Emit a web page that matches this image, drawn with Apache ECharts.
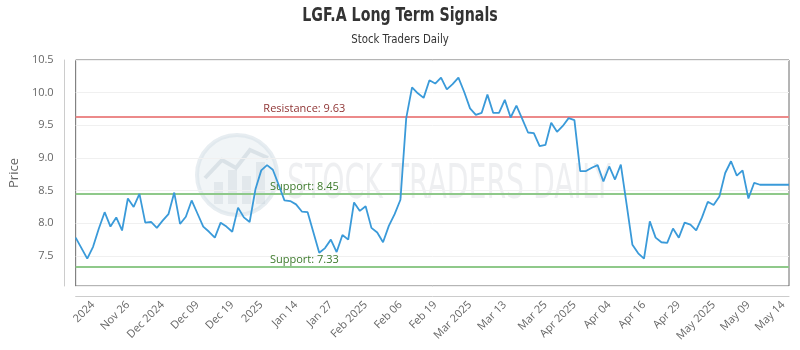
<!DOCTYPE html>
<html>
<head>
<meta charset="utf-8">
<script src="https://cdn.jsdelivr.net/npm/echarts@6/dist/echarts.min.js"></script>
<style>
  html, body { margin: 0; padding: 0; background: #fff; }
  #chart { width: 800px; height: 350px; }
</style>
</head>
<body>
<div id="chart"></div>
<script>
// Daily closing prices for LGF.A
const prices = [
  7.78, 7.62, 7.46, 7.64, 7.92, 8.17, 7.95, 8.09, 7.89, 8.38,
  8.25, 8.45, 8.01, 8.02, 7.93, 8.04, 8.14, 8.47, 7.99, 8.10,
  8.35, 8.15, 7.95, 7.87, 7.78, 8.01, 7.95, 7.87, 8.24, 8.09,
  8.02, 8.52, 8.81, 8.89, 8.82, 8.59, 8.35, 8.34, 8.29, 8.18,
  8.17, 7.86, 7.55, 7.62, 7.75, 7.56, 7.82, 7.75, 8.32, 8.19,
  8.26, 7.93, 7.86, 7.71, 7.96, 8.14, 8.36, 9.61, 10.08, 9.99,
  9.92, 10.19, 10.14, 10.23, 10.05, 10.13, 10.23, 10.01, 9.76, 9.66,
  9.69, 9.97, 9.69, 9.69, 9.89, 9.62, 9.80, 9.60, 9.39, 9.38,
  9.18, 9.20, 9.54, 9.40, 9.49, 9.61, 9.58, 8.80, 8.80, 8.85,
  8.89, 8.64, 8.87, 8.67, 8.90, 8.29, 7.67, 7.54, 7.46, 8.03,
  7.78, 7.71, 7.70, 7.92, 7.78, 8.01, 7.98, 7.89, 8.09, 8.33,
  8.28, 8.41, 8.77, 8.95, 8.73, 8.81, 8.38, 8.62, 8.59, 8.59,
  8.59, 8.59, 8.59, 8.59
];

// Date labels shown along the time axis and the bar they sit under
const tickLabels = [
  '2024', 'Nov 26', 'Dec 2024', 'Dec 09', 'Dec 19', '2025', 'Jan 14',
  'Jan 27', 'Feb 2025', 'Feb 06', 'Feb 19', 'Mar 2025', 'Mar 13',
  'Mar 25', 'Apr 2025', 'Apr 04', 'Apr 16', 'Apr 29', 'May 2025',
  'May 09', 'May 14'
];
const tickIndex = [
  3, 9, 15, 21, 27, 32, 38, 44, 50, 56, 62, 68, 74, 81, 86, 92, 98,
  104, 110, 116, 122
];

// Signal levels
const resistanceLevels = [9.63];
const supportLevels = [8.45, 7.33];

// Y axis range and step
const yMin = 7.04;
const yMax = 10.5;
const yStep = 0.5;

const categories = prices.map((_, i) => String(i));

const levelLines = [];
resistanceLevels.forEach(v => levelLines.push({
  yAxis: v,
  lineStyle: { color: '#ec8a8a', width: 2, type: 'solid' },
  label: { formatter: 'Resistance: ' + v.toFixed(2), color: '#8f3434' }
}));
supportLevels.forEach(v => levelLines.push({
  yAxis: v,
  lineStyle: { color: '#8fc98a', width: 2, type: 'solid' },
  label: { formatter: 'Support: ' + v.toFixed(2), color: '#3d7a2c' }
}));

const chart = echarts.init(document.getElementById('chart'), null, { renderer: 'canvas' });

const narrow = '"Liberation Sans Narrow", "DejaVu Sans Condensed", sans-serif';
const sans = '"Open Sans", "Noto Sans", sans-serif';

chart.setOption({
  animation: false,
  backgroundColor: '#ffffff',
  graphic: [
    // heading and sub-heading, set in a condensed face
    {
      type: 'text',
      x: 400,
      y: 16,
      scaleX: 0.83,
      silent: true,
      style: {
        text: 'LGF.A Long Term Signals',
        x: 0,
        y: 0,
        textAlign: 'center',
        textVerticalAlign: 'middle',
        font: 'bold 19px ' + narrow,
        fill: '#333333'
      }
    },
    {
      type: 'text',
      x: 400,
      y: 40,
      scaleX: 0.87,
      silent: true,
      style: {
        text: 'Stock Traders Daily',
        x: 0,
        y: 0,
        textAlign: 'center',
        textVerticalAlign: 'middle',
        font: '13px ' + narrow,
        fill: '#333333'
      }
    },
    // faint brand mark behind the plot
    {
      type: 'group',
      silent: true,
      z: 0,
      children: [
        {
          type: 'circle',
          shape: { cx: 237, cy: 175, r: 40 },
          style: { fill: 'rgba(205,218,228,0.28)', stroke: 'rgba(215,225,232,0.6)', lineWidth: 4 }
        },
        { type: 'rect', shape: { x: 214, y: 182, width: 9, height: 22 }, style: { fill: 'rgba(185,198,208,0.28)' } },
        { type: 'rect', shape: { x: 228, y: 170, width: 9, height: 34 }, style: { fill: 'rgba(185,198,208,0.28)' } },
        { type: 'rect', shape: { x: 242, y: 176, width: 9, height: 28 }, style: { fill: 'rgba(185,198,208,0.28)' } },
        { type: 'rect', shape: { x: 256, y: 162, width: 9, height: 42 }, style: { fill: 'rgba(185,198,208,0.28)' } },
        {
          type: 'polyline',
          shape: { points: [[205, 178], [222, 160], [236, 168], [250, 150], [268, 158]] },
          style: { stroke: 'rgba(185,198,208,0.4)', lineWidth: 4, fill: null }
        },
        {
          type: 'text',
          x: 287,
          y: 186,
          scaleX: 0.655,
          style: {
            text: 'STOCK TRADERS DAILY',
            x: 0,
            y: 0,
            textVerticalAlign: 'middle',
            font: '48px ' + narrow,
            fill: 'rgba(120,135,150,0.13)'
          }
        }
      ]
    }
  ],
  grid: {
    left: 71,
    right: 11,
    top: 60,
    bottom: 64,
    show: true,
    borderColor: '#6b6b6b',
    borderWidth: 1,
    backgroundColor: 'transparent'
  },
  xAxis: {
    type: 'category',
    data: categories,
    boundaryGap: false,
    offset: 10,
    axisLine: { show: true, lineStyle: { color: '#cccccc', width: 1 } },
    axisTick: { show: false },
    splitLine: { show: false },
    axisLabel: {
      rotate: 45,
      margin: 7,
      color: '#666666',
      fontFamily: sans,
      fontSize: 11,
      interval: (index) => tickIndex.indexOf(index) >= 0,
      formatter: (value, index) => {
        const k = tickIndex.indexOf(index);
        return k >= 0 ? tickLabels[k] : '';
      }
    }
  },
  yAxis: {
    type: 'value',
    min: yMin,
    max: yMax,
    offset: 11,
    name: 'Price',
    nameLocation: 'middle',
    nameGap: 41,
    nameTextStyle: { color: '#666666', fontFamily: sans, fontSize: 13 },
    axisLine: { show: true, lineStyle: { color: '#cccccc', width: 1 } },
    axisTick: { show: false },
    splitLine: { show: true, lineStyle: { color: '#f0f0f0', width: 1 } },
    axisLabel: {
      margin: 11,
      color: '#666666',
      fontFamily: sans,
      fontSize: 11,
      showMinLabel: false,
      formatter: (v) => {
        const r = Math.round(v / yStep) * yStep;
        return Math.abs(r - v) < 1e-6 ? r.toFixed(1) : '';
      }
    }
  },
  series: [
    {
      type: 'line',
      data: prices,
      showSymbol: false,
      symbol: 'none',
      z: 3,
      lineStyle: { color: '#3a9ad9', width: 1.8 },
      itemStyle: { color: '#3a9ad9' },
      markLine: {
        silent: true,
        symbol: ['none', 'none'],
        z: 2,
        label: {
          show: true,
          position: 'insideMiddleTop',
          offset: [-128, 0],
          distance: 2,
          fontFamily: sans,
          fontSize: 11
        },
        data: levelLines
      }
    }
  ]
});
</script>
</body>
</html>
